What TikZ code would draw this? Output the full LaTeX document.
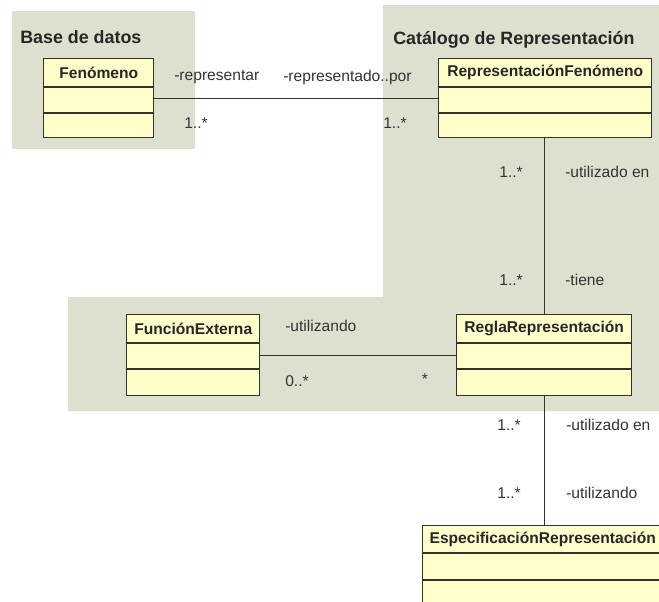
\documentclass[tikz,border=0pt]{standalone}
\usepackage{fontspec}
\setmainfont{Liberation Sans}
\usetikzlibrary{calc}
\definecolor{pkg}{RGB}{221,224,206}
\definecolor{cls}{RGB}{255,255,204}
\definecolor{edge}{RGB}{50,50,40}
\definecolor{txt}{RGB}{51,51,51}
\tikzset{
 classbox/.style={draw=edge, fill=cls, line width=1.1pt, inner sep=0pt, anchor=north west},
 classname/.style={font=\fontsize{11.7}{14}\selectfont\bfseries, text=black!85, inner sep=0pt},
 rolelabel/.style={font=\fontsize{11.7}{14}\selectfont, text=txt, inner sep=0pt},
 pkgtitle/.style={font=\fontsize{13.4}{16}\selectfont\bfseries, text=black!85, inner sep=0pt, anchor=west},
 assoc/.style={draw=edge, line width=0.9pt},
 divider/.style={draw=edge, line width=1.1pt},
}
\newcommand{\umlclass}[8]{%
 \node[classbox, minimum width=#4*0.75pt, minimum height=#5*0.75pt] (#1) at (#2,#3) {};
 \draw[divider] ($(#1.north west)+(0,#6)$) -- ($(#1.north east)+(0,#6)$);
 \draw[divider] ($(#1.north west)+(0,#7)$) -- ($(#1.north east)+(0,#7)$);
 \node[classname] (#1-name) at ($(#1.north)+(0,#6/2)$) {#8};
}
\begin{document}
\begin{tikzpicture}[x=0.75pt,y=-0.75pt]
\useasboundingbox (0,0) rectangle (659,601);
\clip (0,0) rectangle (659,601);
% packages
\fill[pkg] (12,11) rectangle (195,149);
\fill[pkg] (383,5) -- (659,5) -- (659,411) -- (68,411) -- (68,297) -- (383,297) -- cycle;
\node[pkgtitle] (tbase) at (20,37) {Base de datos};
\node[pkgtitle] (tcat) at (393,40) {Catálogo de Representación};
% classes
\umlclass{fen}{43}{58}{110}{79}{29}{55}{Fenómeno}
\umlclass{rep}{438}{58}{213}{79}{29}{55}{RepresentaciónFenómeno}
\umlclass{fext}{126}{314}{133}{81}{29}{55}{FunciónExterna}
\umlclass{regla}{456}{314}{175}{81}{29}{55}{ReglaRepresentación}
\umlclass{espec}{422}{525}{240}{84}{28}{55}{EspecificaciónRepresentación}
% associations
\draw[assoc] (fen.east) -- (rep.west);
\draw[assoc] (regla.north |- rep.south) -- (regla.north);
\draw[assoc] (fext.east) -- (regla.west);
\draw[assoc] (regla.south) -- (regla.south |- espec.north);
% labels
\node[rolelabel, anchor=west] (l1) at (174,77) {-representar};
\node[rolelabel, anchor=west] (l2) at (283,77) {-representado..por};
\node[rolelabel, anchor=west] (m1) at (184,123) {1..*};
\node[rolelabel, anchor=west] (m2) at (383,123) {1..*};
\node[rolelabel, anchor=east] (m3) at (523,172) {1..*};
\node[rolelabel, anchor=west] (l3) at (565,172) {-utilizado en};
\node[rolelabel, anchor=east] (m4) at (523,280) {1..*};
\node[rolelabel, anchor=west] (l4) at (565,280) {-tiene};
\node[rolelabel, anchor=west] (l5) at (285,326) {-utilizando};
\node[rolelabel, anchor=west] (m5) at (285,381) {0..*};
\node[rolelabel] (m6) at (425,379) {*};
\node[rolelabel, anchor=east] (m7) at (521,425) {1..*};
\node[rolelabel, anchor=west] (l6) at (566,425) {-utilizado en};
\node[rolelabel, anchor=east] (m8) at (521,493) {1..*};
\node[rolelabel, anchor=west] (l7) at (566,493) {-utilizando};
\end{tikzpicture}
\end{document}
